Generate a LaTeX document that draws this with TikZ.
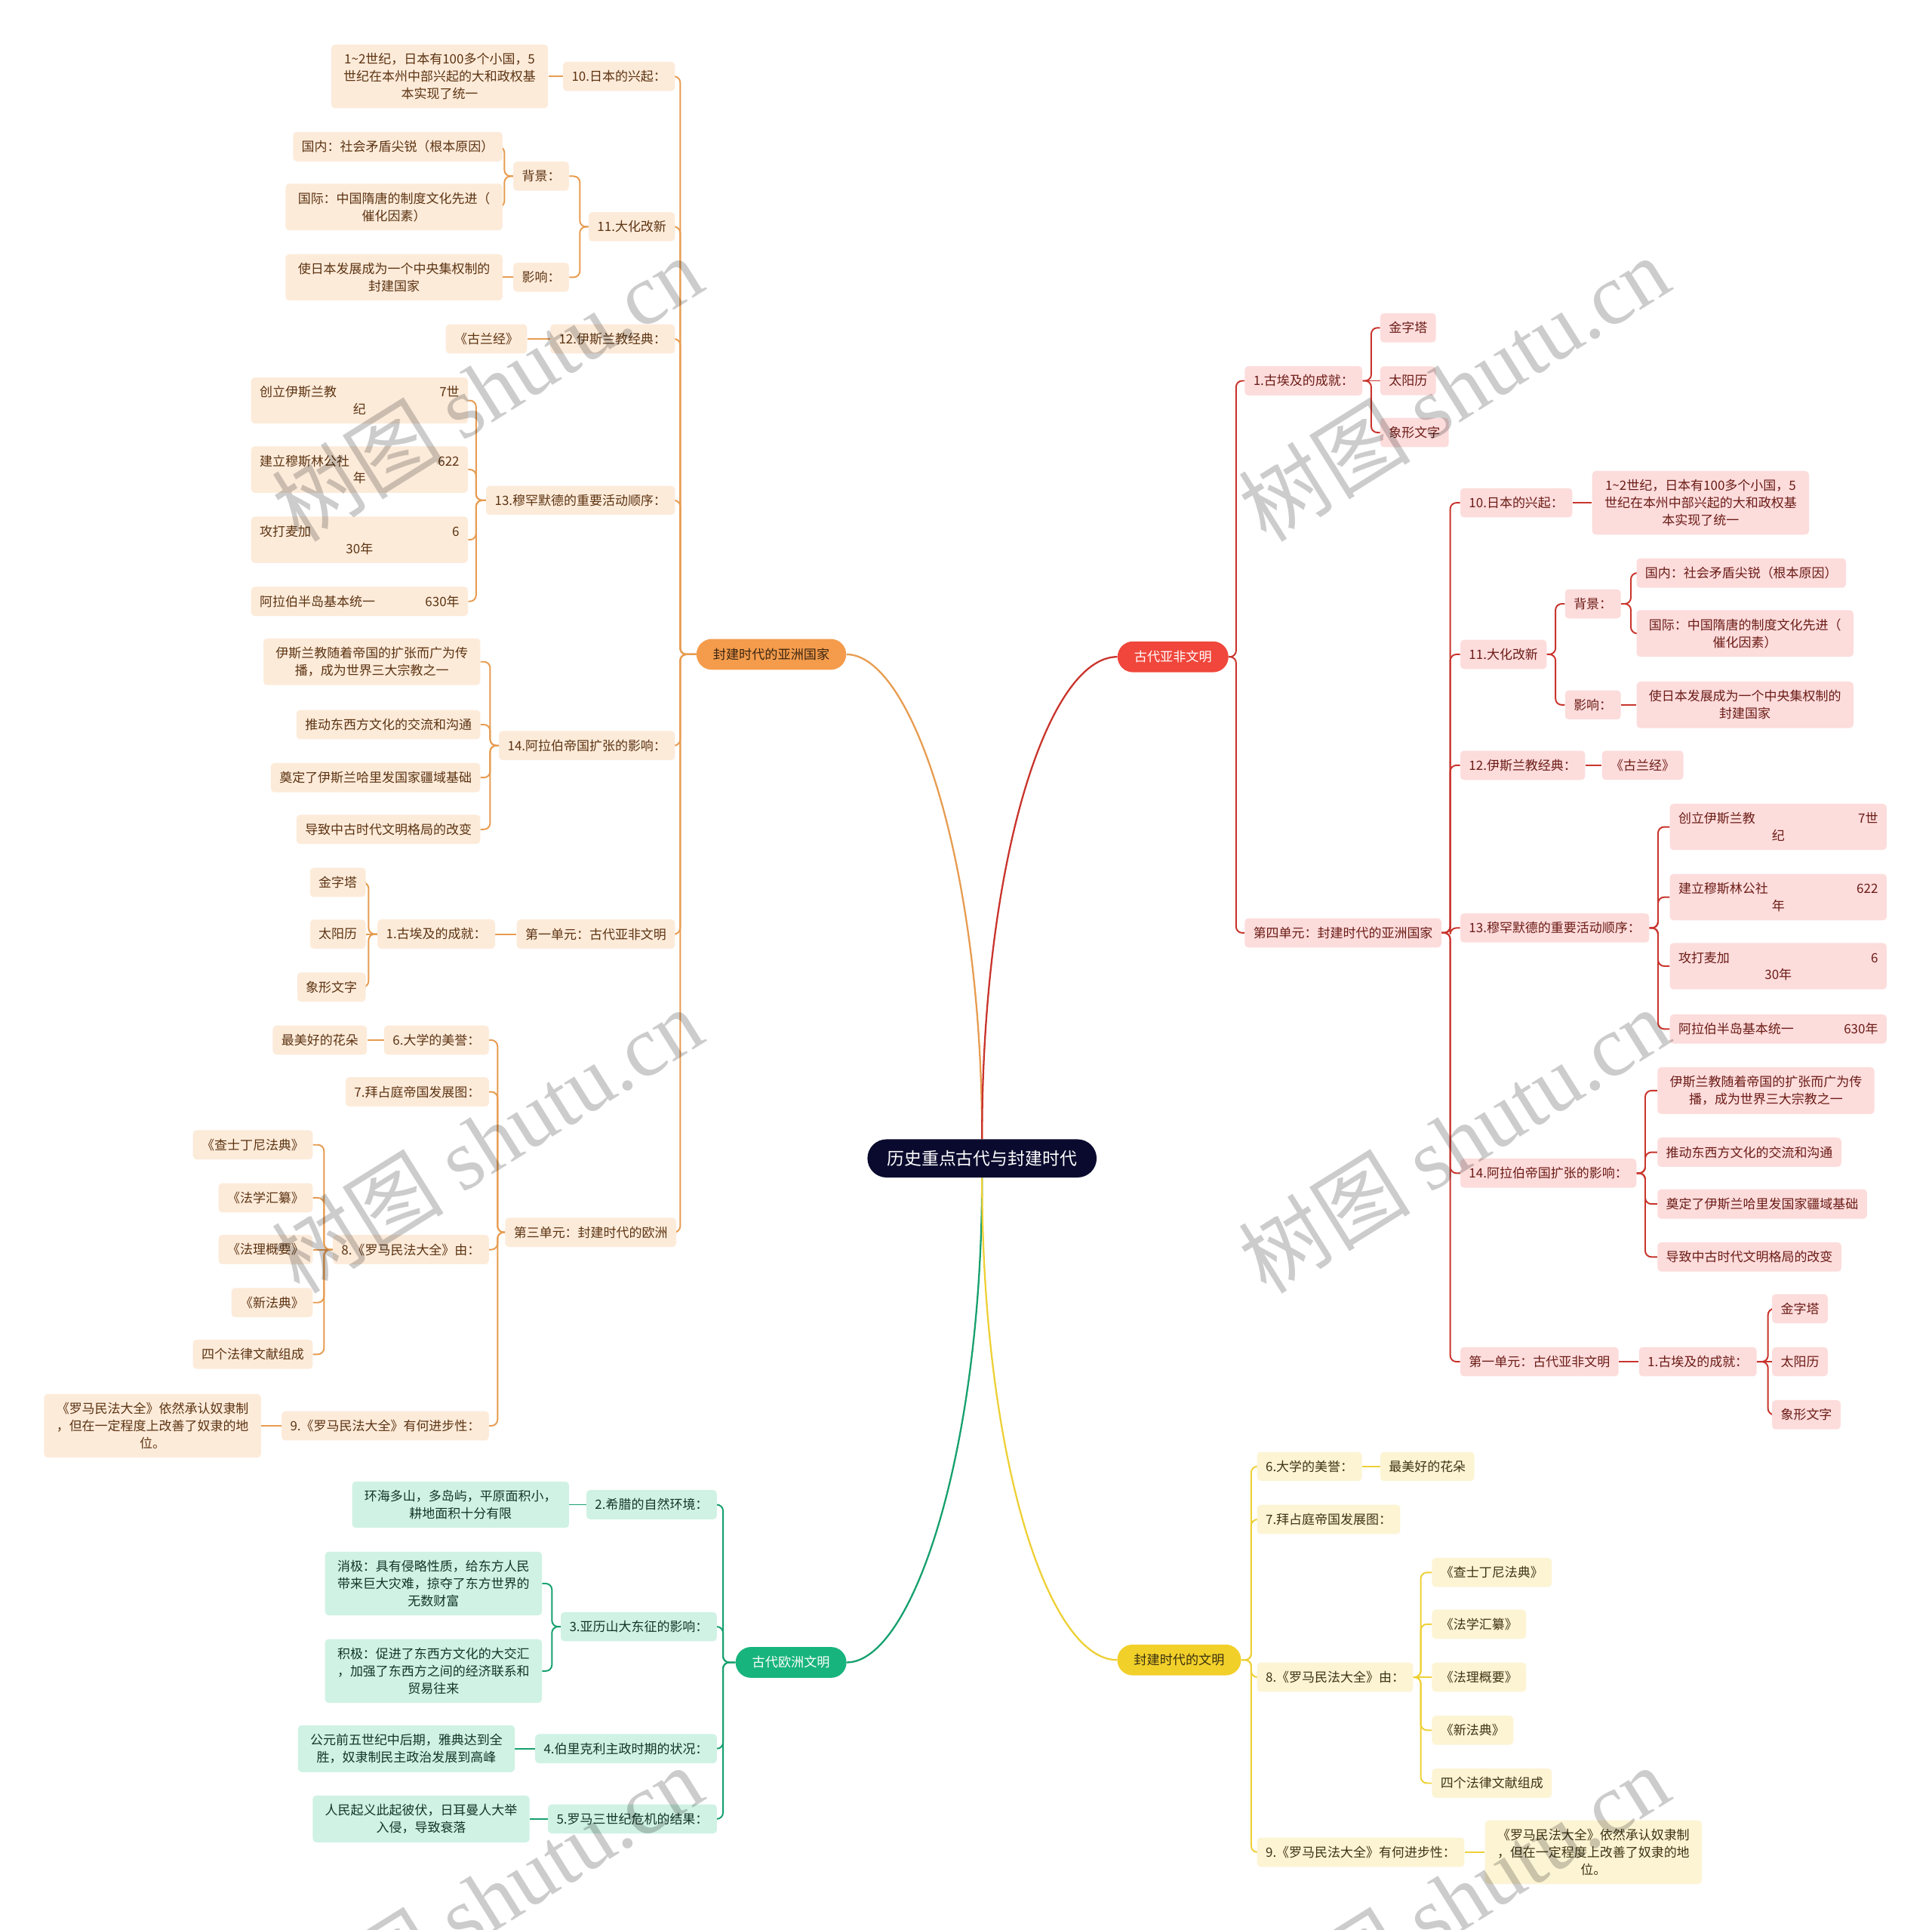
\documentclass[tikz,border=0pt]{standalone}
\usepackage{fontspec}
\setmainfont{Noto Sans CJK SC}
\newfontfamily\wmserif{Liberation Serif}
\pgfdeclarelayer{bg}
\pgfdeclarelayer{fg}
\pgfsetlayers{bg,main,fg}
\definecolor{oline}{HTML}{E79C50}
\definecolor{ofill}{HTML}{FDEBDA}
\definecolor{otext}{HTML}{5C3412}
\definecolor{omain}{HTML}{F49C4C}
\definecolor{omaint}{HTML}{3A2410}
\definecolor{rline}{HTML}{C9342C}
\definecolor{rfill}{HTML}{FDDCDC}
\definecolor{rtext}{HTML}{6B1C16}
\definecolor{rmain}{HTML}{F0463B}
\definecolor{gline}{HTML}{16A06E}
\definecolor{gfill}{HTML}{CFF2E4}
\definecolor{gtext}{HTML}{12362A}
\definecolor{gmain}{HTML}{18B47E}
\definecolor{yline}{HTML}{EED036}
\definecolor{yfill}{HTML}{FDF4D4}
\definecolor{ytext}{HTML}{3E3414}
\definecolor{ymain}{HTML}{F2D02A}
\definecolor{ymaint}{HTML}{3A3010}
\definecolor{navy}{HTML}{0A0A2E}
\newcommand\fsz{\fontsize{10.4}{14}\selectfont}
\newcommand\fmn{\fontsize{10.5}{14}\selectfont}
\newcommand\ftl{\fontsize{14}{18}\selectfont}
\tikzset{
  box/.style={rounded corners=3pt, inner xsep=7pt, inner ysep=7pt, minimum height=23.5pt, align=center, font=\fsz},
  ob/.style={box, fill=ofill, text=otext},
  rb/.style={box, fill=rfill, text=rtext},
  gb/.style={box, fill=gfill, text=gtext},
  yb/.style={box, fill=yfill, text=ytext},
  wrap/.style={text width=162pt, align=center},
  cols/.style={text width=162pt, align=left},
  mainp/.style={rounded corners=12.5pt, minimum height=25pt, inner xsep=13.5pt, inner ysep=4pt, font=\fmn},
  titlep/.style={rounded corners=15.5pt, minimum height=31pt, inner xsep=16pt, fill=navy, text=white, font=\ftl},
  ol/.style={draw=oline, line width=1.2pt, rounded corners=5pt},
  rl/.style={draw=rline, line width=1.2pt, rounded corners=5pt},
  gl/.style={draw=gline, line width=1.2pt, rounded corners=5pt},
  yl/.style={draw=yline, line width=1.2pt, rounded corners=5pt},
  wm/.style={rotate=32, text=black, opacity=0.2, font=\fontsize{70}{70}\selectfont},
}
\begin{document}
\begin{tikzpicture}[x=1pt,y=-1pt]
\begin{pgfonlayer}{bg}
\fill[white] (0,0) rectangle (1568,1566);
\end{pgfonlayer}
\useasboundingbox (0,0) rectangle (1568,1566);

% center and main branches
\node[titlep] (c) at (797,940) {历史重点古代与封建时代};
\node[mainp, fill=omain, text=omaint] (mo) at (626,531) {封建时代的亚洲国家};
\node[mainp, fill=rmain, text=white] (mr) at (952,533) {古代亚非文明};
\node[mainp, fill=gmain, text=white] (mg) at (642,1349) {古代欧洲文明};
\node[mainp, fill=ymain, text=ymaint] (my) at (957,1347) {封建时代的文明};

% ===== red branch (right) =====
\node[rb, anchor=west] (r1) at (1010,309) {1.古埃及的成就：};
\node[rb, anchor=west] (r1a) at (1120,266) {金字塔};
\node[rb, anchor=west] (r1b) at (1120,309) {太阳历};
\node[rb, anchor=west] (r1c) at (1120,351) {象形文字};
\node[rb, anchor=west] (r2) at (1010,757) {第四单元：封建时代的亚洲国家};
\node[rb, anchor=west] (r2a) at (1185,408) {10.日本的兴起：};
\node[rb, wrap, anchor=west] (r2a1) at (1292,408) {1\textasciitilde 2世纪，日本有100多个小国，5\\世纪在本州中部兴起的大和政权基\\本实现了统一};
\node[rb, anchor=west] (r2b) at (1185,531) {11.大化改新};
\node[rb, anchor=west] (r2b1) at (1270,490) {背景：};
\node[rb, anchor=west] (r2b1a) at (1328,465) {国内：社会矛盾尖锐（根本原因）};
\node[rb, wrap, anchor=west] (r2b1b) at (1328,514) {国际：中国隋唐的制度文化先进（\\催化因素）};
\node[rb, anchor=west] (r2b2) at (1270,572) {影响：};
\node[rb, wrap, anchor=west] (r2b2a) at (1328,572) {使日本发展成为一个中央集权制的\\封建国家};
\node[rb, anchor=west] (r2c) at (1185,621) {12.伊斯兰教经典：};
\node[rb, anchor=west] (r2c1) at (1300,621) {《古兰经》};
\node[rb, anchor=west] (r2d) at (1185,753) {13.穆罕默德的重要活动顺序：};
\node[rb, cols, anchor=west] (r2d1) at (1355,671) {创立伊斯兰教\hfill 7世\\\hspace*{\fill}纪\hspace*{\fill}};
\node[rb, cols, anchor=west] (r2d2) at (1355,728) {建立穆斯林公社\hfill 622\\\hspace*{\fill}年\hspace*{\fill}};
\node[rb, cols, anchor=west] (r2d3) at (1355,784) {攻打麦加\hfill 6\\\hspace*{\fill}30年\hspace*{\fill}};
\node[rb, cols, anchor=west] (r2d4) at (1355,835) {阿拉伯半岛基本统一\hfill 630年};
\node[rb, anchor=west] (r2e) at (1185,952) {14.阿拉伯帝国扩张的影响：};
\node[rb, wrap, anchor=west] (r2e1) at (1345,885) {伊斯兰教随着帝国的扩张而广为传\\播，成为世界三大宗教之一};
\node[rb, anchor=west] (r2e2) at (1345,935) {推动东西方文化的交流和沟通};
\node[rb, anchor=west] (r2e3) at (1345,977) {奠定了伊斯兰哈里发国家疆域基础};
\node[rb, anchor=west] (r2e4) at (1345,1020) {导致中古时代文明格局的改变};
\node[rb, anchor=west] (r2f) at (1185,1105) {第一单元：古代亚非文明};
\node[rb, anchor=west] (r2f1) at (1330,1105) {1.古埃及的成就：};
\node[rb, anchor=west] (r2f1a) at (1438,1062) {金字塔};
\node[rb, anchor=west] (r2f1b) at (1438,1105) {太阳历};
\node[rb, anchor=west] (r2f1c) at (1438,1148) {象形文字};

% ===== orange branch (left) =====
\node[ob, anchor=east] (o1) at (548,62) {10.日本的兴起：};
\node[ob, wrap, anchor=east] (o1a) at (445,62) {1\textasciitilde 2世纪，日本有100多个小国，5\\世纪在本州中部兴起的大和政权基\\本实现了统一};
\node[ob, anchor=east] (o2) at (548,184) {11.大化改新};
\node[ob, anchor=east] (o2a) at (462,143) {背景：};
\node[ob, anchor=east] (o2a1) at (408,119) {国内：社会矛盾尖锐（根本原因）};
\node[ob, wrap, anchor=east] (o2a2) at (408,168) {国际：中国隋唐的制度文化先进（\\催化因素）};
\node[ob, anchor=east] (o2b) at (462,225) {影响：};
\node[ob, wrap, anchor=east] (o2b1) at (408,225) {使日本发展成为一个中央集权制的\\封建国家};
\node[ob, anchor=east] (o3) at (548,275) {12.伊斯兰教经典：};
\node[ob, anchor=east] (o3a) at (428,275) {《古兰经》};
\node[ob, anchor=east] (o4) at (548,406) {13.穆罕默德的重要活动顺序：};
\node[ob, cols, anchor=east] (o4a) at (380,325) {创立伊斯兰教\hfill 7世\\\hspace*{\fill}纪\hspace*{\fill}};
\node[ob, cols, anchor=east] (o4b) at (380,381) {建立穆斯林公社\hfill 622\\\hspace*{\fill}年\hspace*{\fill}};
\node[ob, cols, anchor=east] (o4c) at (380,438) {攻打麦加\hfill 6\\\hspace*{\fill}30年\hspace*{\fill}};
\node[ob, cols, anchor=east] (o4d) at (380,488) {阿拉伯半岛基本统一\hfill 630年};
\node[ob, anchor=east] (o5) at (548,605) {14.阿拉伯帝国扩张的影响：};
\node[ob, wrap, anchor=east] (o5a) at (390,537) {伊斯兰教随着帝国的扩张而广为传\\播，成为世界三大宗教之一};
\node[ob, anchor=east] (o5b) at (390,588) {推动东西方文化的交流和沟通};
\node[ob, anchor=east] (o5c) at (390,631) {奠定了伊斯兰哈里发国家疆域基础};
\node[ob, anchor=east] (o5d) at (390,673) {导致中古时代文明格局的改变};
\node[ob, anchor=east] (o6) at (548,758) {第一单元：古代亚非文明};
\node[ob, anchor=east] (o6a) at (402,758) {1.古埃及的成就：};
\node[ob, anchor=east] (o6a1) at (297,716) {金字塔};
\node[ob, anchor=east] (o6a2) at (297,758) {太阳历};
\node[ob, anchor=east] (o6a3) at (297,801) {象形文字};
\node[ob, anchor=east] (o7) at (549,1000) {第三单元：封建时代的欧洲};
\node[ob, anchor=east] (o7a) at (397,844) {6.大学的美誉：};
\node[ob, anchor=east] (o7a1) at (298,844) {最美好的花朵};
\node[ob, anchor=east] (o7b) at (397,886) {7.拜占庭帝国发展图：};
\node[ob, anchor=east] (o7c) at (397,1014) {8.《罗马民法大全》由：};
\node[ob, anchor=east] (o7c1) at (254,929) {《查士丁尼法典》};
\node[ob, anchor=east] (o7c2) at (254,972) {《法学汇纂》};
\node[ob, anchor=east] (o7c3) at (254,1014) {《法理概要》};
\node[ob, anchor=east] (o7c4) at (254,1057) {《新法典》};
\node[ob, anchor=east] (o7c5) at (254,1099) {四个法律文献组成};
\node[ob, anchor=east] (o7d) at (397,1157) {9.《罗马民法大全》有何进步性：};
\node[ob, wrap, anchor=east] (o7d1) at (212,1157) {《罗马民法大全》依然承认奴隶制\\，但在一定程度上改善了奴隶的地\\位。};

% ===== green branch (left) =====
\node[gb, anchor=east] (g1) at (582,1221) {2.希腊的自然环境：};
\node[gb, wrap, anchor=east] (g1a) at (462,1221) {环海多山，多岛屿，平原面积小，\\耕地面积十分有限};
\node[gb, anchor=east] (g2) at (582,1320) {3.亚历山大东征的影响：};
\node[gb, wrap, anchor=east] (g2a) at (440,1285) {消极：具有侵略性质，给东方人民\\带来巨大灾难，掠夺了东方世界的\\无数财富};
\node[gb, wrap, anchor=east] (g2b) at (440,1356) {积极：促进了东西方文化的大交汇\\，加强了东西方之间的经济联系和\\贸易往来};
\node[gb, anchor=east] (g3) at (582,1419) {4.伯里克利主政时期的状况：};
\node[gb, wrap, anchor=east] (g3a) at (418,1419) {公元前五世纪中后期，雅典达到全\\胜，奴隶制民主政治发展到高峰};
\node[gb, anchor=east] (g4) at (582,1476) {5.罗马三世纪危机的结果：};
\node[gb, wrap, anchor=east] (g4a) at (430,1476) {人民起义此起彼伏，日耳曼人大举\\入侵，导致衰落};

% ===== yellow branch (right) =====
\node[yb, anchor=west] (y1) at (1020,1190) {6.大学的美誉：};
\node[yb, anchor=west] (y1a) at (1120,1190) {最美好的花朵};
\node[yb, anchor=west] (y2) at (1020,1233) {7.拜占庭帝国发展图：};
\node[yb, anchor=west] (y3) at (1020,1361) {8.《罗马民法大全》由：};
\node[yb, anchor=west] (y3a) at (1162,1276) {《查士丁尼法典》};
\node[yb, anchor=west] (y3b) at (1162,1318) {《法学汇纂》};
\node[yb, anchor=west] (y3c) at (1162,1361) {《法理概要》};
\node[yb, anchor=west] (y3d) at (1162,1404) {《新法典》};
\node[yb, anchor=west] (y3e) at (1162,1447) {四个法律文献组成};
\node[yb, anchor=west] (y4) at (1020,1503) {9.《罗马民法大全》有何进步性：};
\node[yb, wrap, anchor=west] (y4a) at (1205,1503) {《罗马民法大全》依然承认奴隶制\\，但在一定程度上改善了奴隶的地\\位。};

% ===== connectors =====
\begin{pgfonlayer}{bg}
\draw[draw=oline, line width=1.4pt] (c.north) .. controls (797,700) and (740,531) .. (mo.east);
\draw[draw=rline, line width=1.4pt] (c.north) .. controls (797,700) and (850,533) .. (mr.west);
\draw[draw=gline, line width=1.4pt] (c.south) .. controls (797,1180) and (740,1349) .. (mg.east);
\draw[draw=yline, line width=1.4pt] (c.south) .. controls (797,1180) and (850,1347) .. (my.west);

% elbow connectors
\foreach \p/\q/\d in {mr/r1/6, mr/r2/6, r1/r1a/7, r1/r1c/7,
  r2/r2a/7, r2/r2b/7, r2/r2c/7, r2/r2d/7, r2/r2e/7, r2/r2f/7,
  r2b/r2b1/7, r2b/r2b2/7, r2b1/r2b1a/8, r2b1/r2b1b/8,
  r2d/r2d1/7, r2d/r2d2/7, r2d/r2d3/7, r2d/r2d4/7,
  r2e/r2e1/7, r2e/r2e2/7, r2e/r2e3/7, r2e/r2e4/7,
  r2f1/r2f1a/9, r2f1/r2f1c/9}
  \draw[rl] (\p.east) -- ++(\d,0) |- (\q.west);

\foreach \p/\q/\d in {mo/o1/13, mo/o2/13, mo/o3/13, mo/o4/13, mo/o5/13, mo/o6/13, mo/o7/13,
  o2/o2a/7, o2/o2b/7, o2a/o2a1/7, o2a/o2a2/7,
  o4/o4a/8, o4/o4b/8, o4/o4c/8, o4/o4d/8,
  o5/o5a/7, o5/o5b/7, o5/o5c/7, o5/o5d/7,
  o6a/o6a1/7, o6a/o6a3/7,
  o7/o7a/6, o7/o7b/6, o7/o7c/6, o7/o7d/6,
  o7c/o7c1/7, o7c/o7c2/7, o7c/o7c4/7, o7c/o7c5/7}
  \draw[ol] (\p.west) -- ++(-\d,0) |- (\q.east);

\foreach \p/\q/\d in {mg/g1/10, mg/g2/10, mg/g3/10, mg/g4/10,
  g2/g2a/7, g2/g2b/7}
  \draw[gl] (\p.west) -- ++(-\d,0) |- (\q.east);

\foreach \p/\q/\d in {my/y1/8, my/y2/8, my/y3/8, my/y4/8,
  y3/y3a/6, y3/y3b/6, y3/y3d/6, y3/y3e/6}
  \draw[yl] (\p.east) -- ++(\d,0) |- (\q.west);

% straight connectors (same height)
\foreach \p/\q in {r1/r1b, r2a/r2a1, r2b2/r2b2a, r2c/r2c1, r2f/r2f1, r2f1/r2f1b}
  \draw[rl] (\p.east) -- (\q.west);
\foreach \p/\q in {o1/o1a, o2b/o2b1, o3/o3a, o6/o6a, o6a/o6a2, o7a/o7a1, o7c/o7c3, o7d/o7d1}
  \draw[ol] (\p.west) -- (\q.east);
\foreach \p/\q in {g1/g1a, g3/g3a, g4/g4a}
  \draw[gl] (\p.west) -- (\q.east);
\foreach \p/\q in {y1/y1a, y3/y3c, y4/y4a}
  \draw[yl] (\p.east) -- (\q.west);
\end{pgfonlayer}

% ===== watermarks =====
\begin{pgfonlayer}{fg}
\node[wm] (w1) at (395,315) {树图 {\wmserif shutu.cn}};
\node[wm] (w2) at (1180,315) {树图 {\wmserif shutu.cn}};
\node[wm] (w3) at (395,925) {树图 {\wmserif shutu.cn}};
\node[wm] (w4) at (1180,925) {树图 {\wmserif shutu.cn}};
\node[wm] (w5) at (395,1540) {树图 {\wmserif shutu.cn}};
\node[wm] (w6) at (1180,1540) {树图 {\wmserif shutu.cn}};
\end{pgfonlayer}
\end{tikzpicture}
\end{document}
